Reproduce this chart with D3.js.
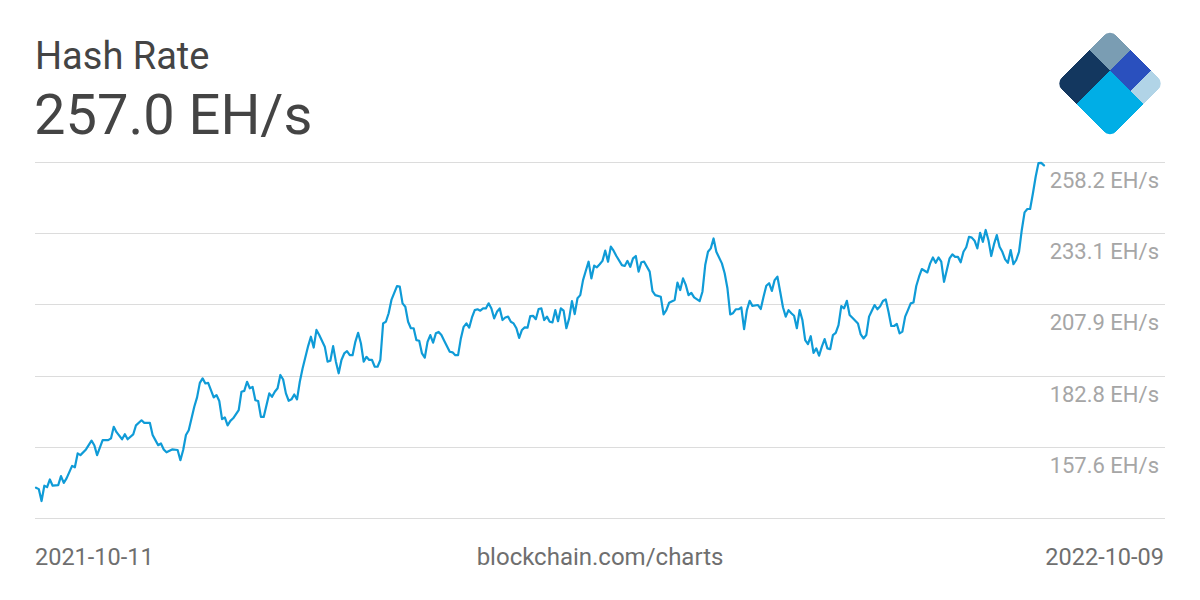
<!DOCTYPE html>
<html>
<head>
<meta charset="utf-8">
<script src="https://cdn.jsdelivr.net/npm/d3@7/dist/d3.min.js"></script>
<style>
  html, body { margin: 0; padding: 0; background: #fff; }
  svg { display: block; font-family: Roboto, "Noto Sans", sans-serif; }
</style>
</head>
<body>
<svg id="chart" width="1200" height="600"></svg>
<script>
// ---- data ----
const chartTitle = "Hash Rate";
const currentValue = "257.0 EH/s";
const unit = "EH/s";
const startDate = "2021-10-11";
const sourceLabel = "blockchain.com/charts";
const yTicks = [132.5, 157.6, 182.8, 207.9, 233.1, 258.2];

// days since start date
const dayOffsets = [
  0,1,2,3,4,5,6,8,9,10,11,13,14,15,16,18,20,21,22,24,26,27,28,29,31,32,33,35,36,38,39,41,42,43,44,45,46,47,49,51,52,53,54,55,57,58,59,60,61,62,64,65,66,67,68,69,70,71,73,74,75,76,77,78,79,80,81,82,84,85,86,87,88,89,90,91,92,93,94,95,96,98,99,100,101,102,104,105,106,107,108,109,110,111,112,113,114,115,116,117,118,119,120,121,122,123,124,125,126,127,128,130,131,132,133,134,135,136,137,138,139,140,141,142,143,144,145,146,147,149,150,151,152,153,154,155,156,157,158,159,160,161,162,163,164,165,166,167,168,169,170,171,172,173,174,175,176,177,178,179,180,181,182,183,184,185,186,187,188,189,190,191,192,193,194,195,196,197,198,199,200,201,202,203,204,205,206,207,208,209,211,212,213,214,215,216,217,218,219,221,222,223,225,226,227,228,230,231,232,233,234,235,236,237,239,240,241,242,243,244,245,247,248,249,250,251,252,253,254,255,256,257,258,260,261,262,263,264,265,266,267,268,269,270,271,272,273,274,275,276,277,278,279,280,281,282,283,284,285,286,287,288,289,290,291,292,293,294,296,297,298,299,300,301,302,303,304,305,306,307,308,309,310,311,312,313,314,315,316,317,318,319,321,322,323,324,325,326,327,328,329,330,331,332,333,334,335,336,337,338,339,340,341,342,343,344,345,346,347,348,349,350,351,352,353,354,355,356,357,358,359,360,361,362,363
];
// hash rate, EH/s
const hashRate = [
  143.2,142.7,138.5,143.9,143.4,146.1,143.9,144.1,147.3,144.9,146.5,150.9,150.4,155.3,154.7,156.7,159.8,158.2,154.7,160.0,160.0,160.6,164.7,162.8,160.3,162.1,160.3,162.0,165.2,167.0,166.1,166.1,161.8,160.0,158.2,158.8,156.7,155.7,156.7,156.5,152.9,156.5,161.8,163.5,171.8,175.1,180.2,181.8,180.0,180.2,175.1,175.9,173.8,167.4,168.0,165.2,166.8,167.7,170.6,177.1,177.4,180.6,178.3,178.8,174.1,173.8,168.2,168.2,176.5,175.3,177.1,178.3,183.0,181.4,176.5,173.9,174.4,176.1,174.4,180.6,185.3,193.2,196.5,192.7,198.9,197.1,193.0,187.7,188.0,193.2,187.7,183.6,188.3,190.6,191.4,190.0,190.0,194.7,197.9,194.2,187.7,189.4,188.3,188.3,185.9,185.9,188.3,201.2,201.8,204.8,209.5,214.4,214.2,208.3,207.1,201.8,199.5,199.5,195.3,195.1,190.6,189.1,194.7,197.1,194.4,197.7,198.2,197.1,195.1,191.2,191.0,190.0,190.0,195.9,200.0,201.2,199.7,203.3,205.9,206.2,205.7,206.5,206.5,208.3,206.5,203.0,205.3,206.5,202.4,203.3,203.6,201.8,201.2,199.5,196.1,198.9,199.8,199.7,203.8,203.9,202.7,206.3,206.5,202.4,203.6,201.8,201.6,205.9,202.0,206.5,205.7,199.5,203.0,209.1,204.5,210.1,211.2,216.5,219.8,223.0,217.1,221.6,221.0,222.1,223.3,226.9,223.0,228.3,226.9,225.0,221.8,221.5,223.3,221.2,224.2,225.0,219.5,222.8,223.0,219.5,212.6,211.2,210.6,204.4,205.9,208.5,209.5,215.6,213.0,217.1,214.8,211.2,212.0,210.4,209.1,212.4,221.8,226.5,227.7,231.2,226.5,222.4,218.9,213.6,204.4,204.8,206.2,206.2,206.9,199.2,205.9,209.2,207.4,207.7,206.3,210.6,214.5,215.4,212.7,216.5,217.7,212.4,206.9,203.6,205.9,204.8,203.9,199.5,205.9,202.4,195.3,193.9,196.7,190.8,192.4,189.8,193.0,195.7,192.4,192.1,197.1,197.9,200.6,207.3,206.5,209.2,204.2,203.2,201.2,197.3,195.9,197.1,203.6,205.7,207.7,206.2,207.3,209.1,209.7,205.3,200.3,200.3,201.0,197.7,198.3,203.6,205.9,208.3,208.6,214.4,217.7,220.4,219.2,222.4,224.5,222.6,224.5,223.0,215.9,220.1,224.2,225.6,224.7,224.7,222.8,226.5,228.1,231.8,231.5,230.4,227.7,233.2,230.0,234.2,230.6,225.0,229.2,232.4,228.3,226.5,223.8,222.6,227.1,222.1,223.6,226.5,234.2,240.4,241.6,241.6,247.1,253.0,257.8,257.9,257.0
];
const logoColors = ["#7a9db3", "#2a50be", "#b1d4e7", "#13375f", "#00aee6"];

// ---- chart ----
const svg = d3.select("#chart");
const parse = d3.utcParse("%Y-%m-%d");
const fmt = d3.utcFormat("%Y-%m-%d");
const t0 = parse(startDate);
const data = dayOffsets.map((d, i) => ({ date: d3.utcDay.offset(t0, d), value: hashRate[i] }));
const tEnd = data[data.length - 1].date;

const x = d3.scaleUtc().domain([t0, tEnd]).range([36, 1044]);
const y = d3.scaleLinear().domain([yTicks[0], yTicks[yTicks.length - 1]]).range([518, 162]);

// gridlines
svg.append("g").selectAll("line").data(yTicks).join("line")
  .attr("x1", 35).attr("x2", 1165)
  .attr("y1", d => Math.round(y(d)) + 0.5).attr("y2", d => Math.round(y(d)) + 0.5)
  .attr("stroke", "#dcdcdc").attr("stroke-width", 1);

// y labels (below each gridline, except the bottom one)
svg.append("g").selectAll("text").data(yTicks.slice(1)).join("text")
  .attr("x", 1159).attr("y", d => y(d) + 26)
  .attr("text-anchor", "end")
  .attr("font-size", 22).attr("fill", "#a6a6a6")
  .text(d => d.toFixed(1) + " " + unit);

// line
const line = d3.line().x(d => x(d.date)).y(d => y(d.value)).curve(d3.curveLinear);
svg.append("path").datum(data)
  .attr("d", line).attr("fill", "none")
  .attr("stroke", "#0f9bd7").attr("stroke-width", 2.2)
  .attr("stroke-linejoin", "round").attr("stroke-linecap", "round");

// header
svg.append("text").attr("x", 35).attr("y", 69)
  .attr("font-size", 38).attr("fill", "#444").text(chartTitle);
svg.append("text").attr("x", 34).attr("y", 134)
  .attr("font-size", 56).attr("fill", "#444").text(currentValue);

// footer
svg.append("text").attr("x", 35).attr("y", 565)
  .attr("font-size", 23.5).attr("fill", "#6f6f6f").text(fmt(t0));
svg.append("text").attr("x", 600).attr("y", 565).attr("text-anchor", "middle")
  .attr("font-size", 24).attr("fill", "#6f6f6f").text(sourceLabel);
svg.append("text").attr("x", 1164).attr("y", 565).attr("text-anchor", "end")
  .attr("font-size", 23.5).attr("fill", "#6f6f6f").text(fmt(tEnd));

// logo
const S = 77, a = 29, b = 58.5;
const defs = svg.append("defs");
defs.append("clipPath").attr("id", "logoClip")
  .append("rect").attr("x", -S/2).attr("y", -S/2).attr("width", S).attr("height", S).attr("rx", 9);
const logo = svg.append("g").attr("transform", "translate(1110,83.5) rotate(45)")
  .append("g").attr("clip-path", "url(#logoClip)")
  .append("g").attr("transform", `translate(${-S/2},${-S/2})`);
const pieces = [
  [0, 0, a, a], [a, 0, b - a, a], [b, 0, S - b, a], [0, a, a, S - a], [a, a, S - a, S - a]
];
logo.selectAll("rect").data(pieces).join("rect")
  .attr("x", d => d[0]).attr("y", d => d[1]).attr("width", d => d[2]).attr("height", d => d[3])
  .attr("fill", (d, i) => logoColors[i]).attr("shape-rendering", "crispEdges");
</script>
</body>
</html>
